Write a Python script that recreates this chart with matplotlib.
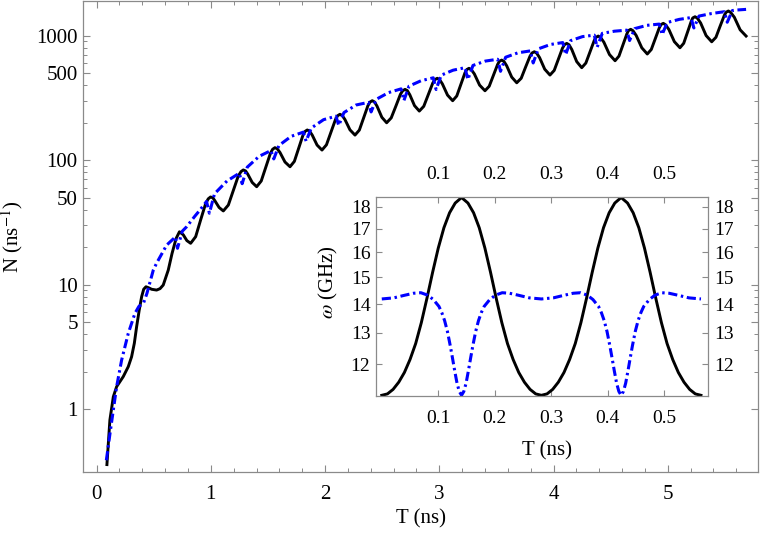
import matplotlib
matplotlib.use('Agg')
import matplotlib.pyplot as plt
from matplotlib.ticker import FixedLocator, FixedFormatter, NullLocator, NullFormatter

plt.rcParams['font.family'] = ['Liberation Serif', 'DejaVu Serif']
plt.rcParams['mathtext.fontset'] = 'stix'

# ---- main panel: N(T) ----
t_black = [0.090, 0.102, 0.116, 0.146, 0.175, 0.233, 0.277, 0.306, 0.330, 0.350, 0.373, 0.394, 0.412,
           0.432, 0.455, 0.482, 0.525, 0.555, 0.583, 0.627, 0.660, 0.695,
           0.725, 0.758, 0.790, 0.823,
           0.867, 0.910, 0.954, 0.977, 0.997, 1.017, 1.034, 1.072, 1.109,
           1.153, 1.197, 1.240, 1.264, 1.284, 1.304, 1.323, 1.362, 1.401,
           1.441, 1.481, 1.521, 1.541, 1.561, 1.581, 1.605, 1.649, 1.693,
           1.731, 1.769, 1.806, 1.824, 1.844, 1.864, 1.887, 1.930, 1.973,
           2.012, 2.052, 2.091, 2.110, 2.130, 2.150, 2.174, 2.218, 2.262,
           2.300, 2.338, 2.375, 2.393, 2.413, 2.433, 2.455, 2.497, 2.539,
           2.579, 2.620, 2.660, 2.680, 2.700, 2.720, 2.742, 2.783, 2.825,
           2.864, 2.904, 2.943, 2.962, 2.982, 3.002, 3.027, 3.072, 3.117,
           3.153, 3.189, 3.224, 3.240, 3.260, 3.280, 3.307, 3.353, 3.400,
           3.437, 3.473, 3.510, 3.526, 3.546, 3.566, 3.590, 3.634, 3.678,
           3.717, 3.755, 3.794, 3.812, 3.832, 3.852, 3.878, 3.923, 3.969,
           4.006, 4.043, 4.079, 4.096, 4.116, 4.136, 4.160, 4.203, 4.247,
           4.283, 4.320, 4.356, 4.372, 4.392, 4.412, 4.441, 4.490, 4.539,
           4.573, 4.608, 4.642, 4.656, 4.676, 4.696, 4.724, 4.773, 4.821,
           4.856, 4.891, 4.926, 4.941, 4.961, 4.981, 5.010, 5.058, 5.107,
           5.140, 5.173, 5.206, 5.219, 5.239, 5.259, 5.288, 5.336, 5.385,
           5.422, 5.458, 5.495, 5.511, 5.531, 5.551, 5.583, 5.634, 5.686]
n_black = [0.36, 0.53, 0.82, 1.26, 1.52, 1.83, 2.20, 2.64, 3.39, 4.60, 6.27, 8.01, 9.2,
           9.63, 9.45, 9.19, 9.06, 9.3, 9.94, 13.1, 17.8, 23.4,
           26.6, 25.2, 22.6, 21.5,
           24.3, 33.0, 44.7, 48.9, 50.6, 49.9, 47.4, 41.7, 39.1,
           43.6, 57.1, 74.6, 80.9, 83.4, 81.9, 77.2, 66.2, 61.2,
           68.0, 87.8, 113.2, 122.3, 125.9, 123.4, 115.3, 96.6, 88.5,
           97.7, 124.3, 158.1, 169.9, 174.6, 171.0, 159.2, 132.1, 120.5,
           132.7, 167.7, 211.8, 227.3, 233.3, 228.3, 211.8, 175.0, 158.9,
           174.2, 218.3, 273.5, 292.4, 299.9, 293.1, 271.0, 220.8, 199.5,
           218.3, 271.6, 338.1, 360.8, 369.8, 361.5, 334.6, 273.8, 247.7,
           270.4, 335.4, 415.9, 443.2, 453.9, 443.4, 409.3, 332.7, 299.9,
           327.3, 404.6, 500.0, 532.9, 545.8, 533.0, 492.0, 399.9, 360.6,
           391.7, 478.6, 584.8, 621.2, 635.3, 620.3, 572.1, 464.0, 417.8,
           453.9, 556.6, 682.3, 724.4, 741.3, 723.3, 665.3, 537.0, 482.0,
           524.8, 645.7, 794.3, 845.0, 865.0, 843.2, 772.7, 618.0, 552.1,
           601.2, 739.6, 909.9, 967.8, 990.8, 965.3, 884.1, 703.9, 628.1,
           683.9, 839.5, 1030, 1096, 1122, 1093, 1001, 797.2, 711.2,
           772.7, 944.1, 1153, 1225, 1253, 1221, 1119, 893.3, 798.0,
           867.0, 1063, 1303, 1384, 1416, 1379, 1262, 1000, 891.3,
           968.3, 1185, 1449, 1539, 1574, 1533, 1403, 1112, 990.8]

t_blue = [0.085, 0.117, 0.175, 0.219, 0.277, 0.335, 0.370, 0.410, 0.440, 0.496, 0.525, 0.613,
          0.690, 0.708, 0.750, 0.788, 0.860, 0.905,
          0.962, 0.987, 1.032, 1.141,
          1.249, 1.274, 1.319, 1.4225,
          1.526, 1.551, 1.596, 1.7025,
          1.809, 1.834, 1.879, 1.987,
          2.095, 2.120, 2.165, 2.2715,
          2.378, 2.403, 2.448, 2.5565,
          2.665, 2.690, 2.735, 2.841,
          2.947, 2.972, 3.017, 3.121,
          3.225, 3.250, 3.295, 3.403,
          3.511, 3.536, 3.581, 3.689,
          3.797, 3.822, 3.867, 3.974,
          4.081, 4.106, 4.151, 4.254,
          4.357, 4.382, 4.427, 4.534,
          4.641, 4.666, 4.711, 4.8185,
          4.926, 4.951, 4.996, 5.100,
          5.204, 5.229, 5.274, 5.385,
          5.496, 5.521, 5.566, 5.604, 5.686]
n_blue = [0.39, 0.64, 1.52, 2.49, 4.07, 5.89, 6.7, 7.1, 8.5, 13.1, 14.9, 20.8,
          24.2, 19.6, 26.9, 29.2, 35.5, 39.8,
          46.6, 37.5, 53.7, 68.0,
          78.5, 64.7, 87.9, 107.3,
          119.4, 102.3, 131.1, 155.2,
          167.7, 141.9, 180.9, 211.3,
          225.3, 189.7, 240.7, 277.0,
          290.8, 243.8, 307.6, 348.7,
          373.2, 300.6, 392.8, 434.1,
          458.0, 369.0, 480.9, 527.2,
          552.0, 443.6, 575.6, 623.7,
          645.4, 516.4, 670.1, 727.1,
          753.1, 602.6, 782.2, 848.3,
          878.5, 703.1, 911.0, 980.6,
          1008, 805.4, 1042, 1084,
          1105, 912, 1137, 1208,
          1236, 1019, 1273, 1348,
          1394, 1151, 1434, 1503,
          1554, 1279, 1587, 1603, 1622]

main_xticks = [0, 1, 2, 3, 4, 5]
main_xminor = [0.2, 0.4, 0.6, 0.8, 1.2, 1.4, 1.6, 1.8, 2.2, 2.4, 2.6, 2.8,
               3.2, 3.4, 3.6, 3.8, 4.2, 4.4, 4.6, 4.8, 5.2, 5.4, 5.6]
main_yticks = [1, 5, 10, 50, 100, 500, 1000]
main_yminor = [2, 3, 4, 6, 7, 8, 9, 20, 30, 40, 60, 70, 80, 90,
               200, 300, 400, 600, 700, 800, 900]

# ---- inset: omega(T) over two periods ----
t_w_black = [0.0, 0.01, 0.02, 0.03, 0.04, 0.05, 0.06, 0.07, 0.08, 0.09, 0.10, 0.11, 0.12, 0.13,
             0.1412, 0.1525, 0.1625, 0.1725, 0.1825, 0.1925, 0.2025, 0.2125, 0.2225, 0.2325,
             0.2425, 0.2525, 0.2625, 0.2725, 0.2825, 0.2925, 0.3025, 0.3125, 0.3225, 0.3325,
             0.3425, 0.3525, 0.3625, 0.3725, 0.3825, 0.3925, 0.4025, 0.4125, 0.4237, 0.4350,
             0.4450, 0.4550, 0.4650, 0.4750, 0.4850, 0.4950, 0.5050, 0.5150, 0.5250, 0.5350,
             0.5450, 0.5550, 0.5650]
w_black = [11.07, 11.11, 11.24, 11.45, 11.74, 12.14, 12.65, 13.35, 14.22, 15.20, 16.18, 17.05, 17.72, 18.17,
           18.43, 18.17, 17.72, 17.05, 16.18, 15.20, 14.22, 13.35, 12.65, 12.14,
           11.74, 11.45, 11.24, 11.11, 11.07, 11.11, 11.24, 11.45, 11.74, 12.14,
           12.65, 13.35, 14.22, 15.20, 16.18, 17.05, 17.72, 18.17, 18.43, 18.17,
           17.72, 17.05, 16.18, 15.20, 14.22, 13.35, 12.65, 12.14, 11.74, 11.45,
           11.24, 11.11, 11.07]

t_w_blue = [0.0, 0.0212, 0.0412, 0.0562, 0.0692, 0.0812, 0.0912, 0.1012, 0.1062, 0.1112, 0.1162,
            0.1212, 0.1252, 0.1292, 0.1332, 0.1372, 0.1412, 0.1452, 0.1492, 0.1532, 0.1572,
            0.1612, 0.1662, 0.1712, 0.1762, 0.1812, 0.1912, 0.2012, 0.2132, 0.2262, 0.2412,
            0.2612, 0.2825, 0.3037, 0.3237, 0.3387, 0.3517, 0.3637, 0.3737, 0.3837, 0.3887,
            0.3937, 0.3987, 0.4037, 0.4077, 0.4117, 0.4157, 0.4197, 0.4237, 0.4277, 0.4317,
            0.4357, 0.4397, 0.4437, 0.4487, 0.4537, 0.4587, 0.4637, 0.4737, 0.4837, 0.4957,
            0.5087, 0.5237, 0.5437, 0.5650]
w_blue = [14.19, 14.23, 14.33, 14.40, 14.42, 14.33, 14.17, 13.92, 13.70, 13.42, 13.05,
          12.58, 12.18, 11.78, 11.42, 11.18, 11.07, 11.18, 11.42, 11.78, 12.18,
          12.58, 13.05, 13.42, 13.70, 13.92, 14.17, 14.33, 14.42, 14.40, 14.33,
          14.23, 14.19, 14.23, 14.33, 14.40, 14.42, 14.33, 14.17, 13.92, 13.70,
          13.42, 13.05, 12.58, 12.18, 11.78, 11.42, 11.18, 11.07, 11.18, 11.42,
          11.78, 12.18, 12.58, 13.05, 13.42, 13.70, 13.92, 14.17, 14.33, 14.42,
          14.40, 14.33, 14.23, 14.19]

inset_xticks = [0.1, 0.2, 0.3, 0.4, 0.5]
inset_yticks = [12, 13, 14, 15, 16, 17, 18]

frame_col = '#8a8a8a'
blue_dash = (0, (3.0, 1.2, 0.8, 1.2))

fig = plt.figure(figsize=(7.64, 5.39), dpi=100)

ax = fig.add_axes([0.109, 0.1237, 0.8828, 0.8753])
ax.plot(t_black, n_black, color='black', lw=2.1, solid_joinstyle='round')
ax.plot(t_blue, n_blue, color=(0, 0, 1), lw=2.2, linestyle=blue_dash)
ax.set_yscale('log')
ax.set_xlim(-0.117, 5.788)
ax.set_ylim(0.312, 1910)

ax.xaxis.set_major_locator(FixedLocator(main_xticks))
ax.xaxis.set_minor_locator(FixedLocator(main_xminor))
ax.yaxis.set_major_locator(FixedLocator(main_yticks))
ax.yaxis.set_major_formatter(FixedFormatter([str(v) for v in main_yticks]))
ax.yaxis.set_minor_locator(FixedLocator(main_yminor))
ax.yaxis.set_minor_formatter(NullFormatter())
ax.tick_params(which='both', direction='in', top=True, right=True, colors=frame_col,
               labelcolor='black', labelsize=15)
ax.tick_params(which='major', length=5, width=0.8)
ax.tick_params(which='minor', length=2.8, width=0.7)
ax.tick_params(axis='x', which='major', pad=9)
ax.tick_params(axis='y', which='major', pad=4)
for s in ax.spines.values():
    s.set_color(frame_col)
    s.set_linewidth(0.9)

ax.set_xlabel('T (ns)', fontsize=15)
ax.set_ylabel(r'N (ns$^{-1}$)', fontsize=15)
ax.xaxis.set_label_coords(0.5, -0.078)
ax.yaxis.set_label_coords(-0.086, 0.5)

# inset
axi = fig.add_axes([0.4921, 0.2653, 0.4350, 0.3698])
axi.set_facecolor('white')
axi.plot(t_w_black, w_black, color='black', lw=2.1, solid_joinstyle='round')
axi.plot(t_w_blue, w_blue, color=(0, 0, 1), lw=2.2, linestyle=blue_dash)
axi.set_yscale('log')
axi.set_xlim(-0.0103, 0.578)
axi.set_ylim(11.05, 18.47)
axi.xaxis.set_major_locator(FixedLocator(inset_xticks))
axi.xaxis.set_major_formatter(FixedFormatter([str(v) for v in inset_xticks]))
axi.xaxis.set_minor_locator(NullLocator())
axi.yaxis.set_major_locator(FixedLocator(inset_yticks))
axi.yaxis.set_major_formatter(FixedFormatter([str(v) for v in inset_yticks]))
axi.yaxis.set_minor_locator(NullLocator())
axi.yaxis.set_minor_formatter(NullFormatter())
axi.tick_params(which='both', direction='in', top=True, right=True, labeltop=True,
                labelright=True, colors=frame_col, labelcolor='black', labelsize=14,
                length=4, width=0.8)
axi.tick_params(axis='x', pad=10)
axi.tick_params(axis='y', pad=4)
for s in axi.spines.values():
    s.set_color(frame_col)
    s.set_linewidth(0.9)

axi.set_xlabel('T (ns)', fontsize=15)
axi.set_ylabel(r'$\omega$ (GHz)', fontsize=15)
axi.xaxis.set_label_coords(0.515, -0.225)
axi.yaxis.set_label_coords(-0.108, 0.57)

fig.savefig('out.png', dpi=100)
